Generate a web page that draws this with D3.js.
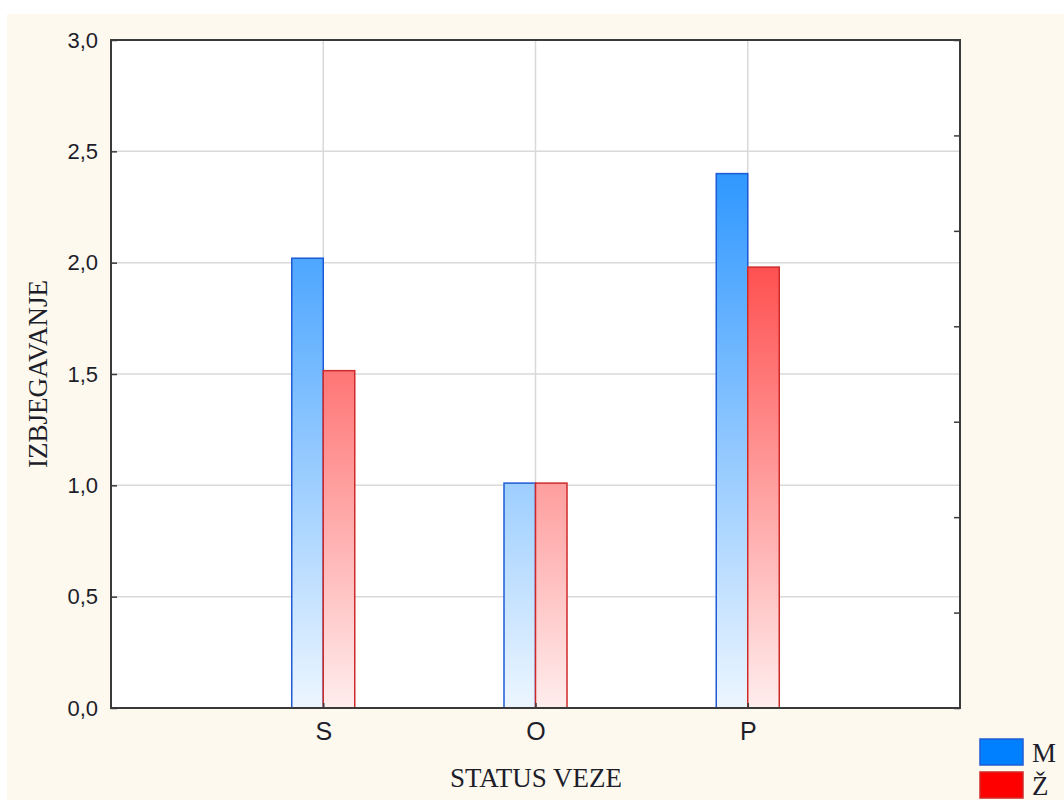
<!DOCTYPE html>
<html>
<head>
<meta charset="utf-8">
<script src="https://cdn.jsdelivr.net/npm/d3@7"></script>
<style>
  html, body { margin: 0; padding: 0; background: #fff; }
  svg { display: block; }
</style>
</head>
<body>
<svg id="chart" width="1064" height="800"></svg>
<script>
// data
const categories = ["S", "O", "P"];
const seriesNames = ["M", "Ž"];
const valuesM = [2.02, 1.01, 2.40];
const valuesZ = [1.515, 1.01, 1.98];
const yTicks = [0, 0.5, 1.0, 1.5, 2.0, 2.5, 3.0];

const C = {
  bg: "#fdf9ef",
  frame: "#3a3a3a",
  grid: "#d9d9d9",
  text: "#1e1e2a",
  blue: "#0080ff", blueLo: "#edf6ff", blueStroke: "#1f5bd6",
  red: "#ff0000", redLo: "#ffeded", redStroke: "#cf2a2a",
};

const svg = d3.select("#chart");
const plot = { l: 111, r: 960, t: 40, b: 708 };

svg.append("rect").attr("x", 7).attr("y", 14).attr("width", 1057).attr("height", 786).attr("fill", C.bg);
svg.append("rect").attr("x", plot.l).attr("y", plot.t)
  .attr("width", plot.r - plot.l).attr("height", plot.b - plot.t).attr("fill", "#fff");

const x = d3.scalePoint().domain(categories).range([plot.l, plot.r]).padding(1);
const y = d3.scaleLinear().domain([0, 3]).range([plot.b, plot.t]);
// right side has its own unlabelled scale with 7 steps
const y2 = d3.scaleLinear().domain([0, 7]).range([plot.b, plot.t]);
const barW = 31.5;

const defs = svg.append("defs");
function grad(id, top, bottom) {
  const g = defs.append("linearGradient").attr("id", id)
    .attr("gradientUnits", "userSpaceOnUse")
    .attr("x1", 0).attr("x2", 0).attr("y1", y(3)).attr("y2", y(0));
  g.append("stop").attr("offset", 0).attr("stop-color", top);
  g.append("stop").attr("offset", 1).attr("stop-color", bottom);
}
grad("g-m", C.blue, C.blueLo);
grad("g-z", C.red, C.redLo);

// grid
svg.append("g").selectAll("line").data(yTicks.slice(1, -1)).enter().append("line")
  .attr("x1", plot.l).attr("x2", plot.r)
  .attr("y1", d => y(d)).attr("y2", d => y(d))
  .attr("stroke", C.grid).attr("stroke-width", 1.5);
svg.append("g").selectAll("line").data(categories).enter().append("line")
  .attr("x1", d => x(d)).attr("x2", d => x(d))
  .attr("y1", plot.t).attr("y2", plot.b)
  .attr("stroke", C.grid).attr("stroke-width", 1.5);

// bars
const bars = svg.append("g");
bars.selectAll(".bar-m").data(categories).enter().append("rect")
  .attr("class", "bar-m")
  .attr("x", d => x(d) - barW).attr("width", barW)
  .attr("y", (d, i) => y(valuesM[i])).attr("height", (d, i) => y(0) - y(valuesM[i]))
  .attr("fill", "url(#g-m)").attr("stroke", C.blueStroke).attr("stroke-width", 1.5);
bars.selectAll(".bar-z").data(categories).enter().append("rect")
  .attr("class", "bar-z")
  .attr("x", d => x(d)).attr("width", barW)
  .attr("y", (d, i) => y(valuesZ[i])).attr("height", (d, i) => y(0) - y(valuesZ[i]))
  .attr("fill", "url(#g-z)").attr("stroke", C.redStroke).attr("stroke-width", 1.5);

// axes
const font = "'Liberation Sans', Arial, sans-serif";
const serif = "'Liberation Serif', 'Times New Roman', serif";

const yAxis = svg.append("g").attr("transform", `translate(${plot.l},0)`)
  .call(d3.axisLeft(y).tickValues(yTicks).tickSize(-6).tickPadding(13)
    .tickFormat(d => d3.format(".1f")(d).replace(".", ",")));
yAxis.select(".domain").remove();
yAxis.selectAll("line").attr("stroke", C.frame).attr("stroke-width", 1.5);
yAxis.selectAll("text").attr("font-family", font).attr("font-size", 22).attr("fill", C.text);

const y2Axis = svg.append("g").attr("transform", `translate(${plot.r},0)`)
  .call(d3.axisRight(y2).ticks(7).tickSize(-6).tickFormat(""));
y2Axis.select(".domain").remove();
y2Axis.selectAll("line").attr("stroke", C.frame).attr("stroke-width", 1.5);

const xAxis = svg.append("g").attr("transform", `translate(0,${plot.b})`)
  .call(d3.axisBottom(x).tickSize(-5).tickPadding(14));
xAxis.select(".domain").remove();
xAxis.selectAll("line").attr("stroke", C.frame).attr("stroke-width", 1.5);
xAxis.selectAll("text").attr("font-family", font).attr("font-size", 25).attr("fill", C.text);

// frame
svg.append("rect").attr("x", plot.l).attr("y", plot.t)
  .attr("width", plot.r - plot.l).attr("height", plot.b - plot.t)
  .attr("fill", "none").attr("stroke", C.frame).attr("stroke-width", 2);

// titles
svg.append("text").attr("x", 536).attr("y", 787)
  .attr("text-anchor", "middle").attr("font-family", serif).attr("font-size", 27)
  .attr("fill", C.text).text("STATUS VEZE");
svg.append("text").attr("transform", `translate(47,${(plot.t + plot.b) / 2}) rotate(-90)`)
  .attr("text-anchor", "middle").attr("font-family", serif).attr("font-size", 27)
  .attr("fill", C.text).text("IZBJEGAVANJE");

// legend
const legFill = [C.blue, C.red];
const legStroke = [C.blueStroke, C.redStroke];
const leg = svg.append("g").selectAll("g").data(seriesNames).enter().append("g")
  .attr("transform", (d, i) => `translate(980,${739 + i * 33})`);
leg.append("rect").attr("width", 43).attr("height", 26)
  .attr("fill", (d, i) => legFill[i]).attr("stroke", (d, i) => legStroke[i]).attr("stroke-width", 1.5);
leg.append("text").attr("x", 52).attr("y", 23)
  .attr("font-family", serif).attr("font-size", 27).attr("fill", C.text)
  .text(d => d);
</script>
</body>
</html>
